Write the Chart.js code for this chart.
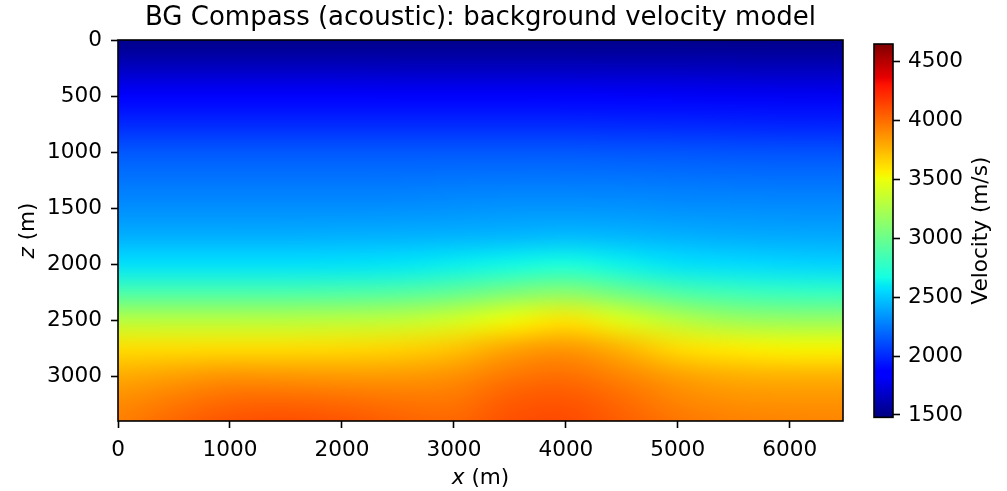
<!DOCTYPE html>
<html>
<head>
<meta charset="utf-8">
<script src="https://cdn.jsdelivr.net/npm/chart.js@4.4.1/dist/chart.umd.min.js"></script>
<style>
  html, body { margin: 0; padding: 0; background: #ffffff; }
  canvas { display: block; }
</style>
</head>
<body>
<canvas id="chart" width="1007" height="491" style="width:1007px;height:491px"></canvas>
<script>
// Grid nodes of the background velocity model (metres)
const xNodes = [0, 500, 1000, 1500, 2000, 2500, 3000, 3500, 4000, 4500, 5000, 5500, 6000, 6500];
const zNodes = [0, 250, 500, 750, 1000, 1250, 1500, 1750, 2000, 2250, 2500, 2750, 3000, 3250, 3500];

// Velocity (m/s), one row per depth, one value per x node
const v_z0    = [1510, 1510, 1510, 1510, 1510, 1510, 1510, 1510, 1510, 1510, 1510, 1510, 1510, 1510];
const v_z250  = [1660, 1660, 1660, 1660, 1660, 1655, 1655, 1655, 1655, 1650, 1650, 1645, 1640, 1640];
const v_z500  = [1830, 1830, 1830, 1830, 1830, 1825, 1825, 1825, 1825, 1820, 1815, 1810, 1805, 1800];
const v_z750  = [2000, 2000, 2000, 2000, 2000, 2000, 2000, 2000, 2000, 1995, 1990, 1985, 1980, 1980];
const v_z1000 = [2150, 2150, 2150, 2150, 2150, 2150, 2150, 2150, 2150, 2145, 2140, 2135, 2130, 2130];
const v_z1250 = [2240, 2240, 2240, 2240, 2240, 2240, 2245, 2250, 2250, 2245, 2240, 2235, 2230, 2230];
const v_z1500 = [2320, 2320, 2320, 2320, 2320, 2325, 2330, 2340, 2340, 2335, 2325, 2320, 2315, 2315];
const v_z1750 = [2420, 2420, 2420, 2420, 2425, 2430, 2435, 2445, 2460, 2445, 2425, 2410, 2405, 2400];
const v_z2000 = [2575, 2575, 2575, 2575, 2580, 2590, 2620, 2650, 2690, 2630, 2580, 2560, 2540, 2530];
const v_z2250 = [2870, 2870, 2870, 2870, 2880, 2900, 2960, 3060, 3120, 3000, 2880, 2820, 2790, 2780];
const v_z2500 = [3300, 3300, 3300, 3300, 3310, 3330, 3400, 3520, 3600, 3450, 3300, 3200, 3170, 3170];
const v_z2750 = [3620, 3620, 3620, 3620, 3630, 3650, 3700, 3810, 3860, 3760, 3620, 3570, 3540, 3540];
const v_z3000 = [3790, 3830, 3870, 3860, 3850, 3850, 3880, 3970, 4000, 3920, 3830, 3780, 3770, 3770];
const v_z3250 = [3900, 3970, 4030, 4040, 4020, 3990, 3980, 4070, 4090, 4020, 3930, 3890, 3880, 3880];
const v_z3500 = [3950, 4040, 4110, 4130, 4110, 4060, 4030, 4110, 4130, 4060, 3990, 3950, 3940, 3930];

const velocityRows = [v_z0, v_z250, v_z500, v_z750, v_z1000, v_z1250, v_z1500, v_z1750,
                      v_z2000, v_z2250, v_z2500, v_z2750, v_z3000, v_z3250, v_z3500];

// Axis ticks and colour range
const xTicks = [0, 1000, 2000, 3000, 4000, 5000, 6000];
const zTicks = [0, 500, 1000, 1500, 2000, 2500, 3000];
const cbarTicks = [1500, 2000, 2500, 3000, 3500, 4000, 4500];
const vMin = 1480;
const vMax = 4650;

const FONT = 'DejaVu Sans';
const TICK_SIZE = 21.6;

// matplotlib "jet" colormap
const JET_R = [[0, 0], [0.35, 0], [0.66, 1], [0.89, 1], [1, 0.5]];
const JET_G = [[0, 0], [0.125, 0], [0.375, 1], [0.64, 1], [0.91, 0], [1, 0]];
const JET_B = [[0, 0.5], [0.11, 1], [0.34, 1], [0.65, 0], [1, 0]];
function seg(s, t) {
  for (let i = 1; i < s.length; i++) {
    if (t <= s[i][0]) {
      const [x0, y0] = s[i - 1], [x1, y1] = s[i];
      return y0 + (y1 - y0) * (t - x0) / (x1 - x0);
    }
  }
  return s[s.length - 1][1];
}
function jet(v) {
  let t = (v - vMin) / (vMax - vMin);
  t = Math.min(1, Math.max(0, t));
  return [Math.round(seg(JET_R, t) * 255), Math.round(seg(JET_G, t) * 255), Math.round(seg(JET_B, t) * 255)];
}

// Draws the velocity grid as an image placed through the x/z scales
const velocityField = {
  id: 'velocityField',
  beforeDatasetsDraw(chart) {
    const { ctx, chartArea: a, scales: { x, y } } = chart;
    const nx = xNodes.length, nz = zNodes.length;
    const off = document.createElement('canvas');
    off.width = nx; off.height = nz;
    const octx = off.getContext('2d');
    const img = octx.createImageData(nx, nz);
    for (let j = 0; j < nz; j++) {
      for (let i = 0; i < nx; i++) {
        const c = jet(velocityRows[j][i]);
        const k = (j * nx + i) * 4;
        img.data[k] = c[0]; img.data[k + 1] = c[1]; img.data[k + 2] = c[2]; img.data[k + 3] = 255;
      }
    }
    octx.putImageData(img, 0, 0);
    const dx = xNodes[1] - xNodes[0], dz = zNodes[1] - zNodes[0];
    const left = x.getPixelForValue(xNodes[0] - dx / 2);
    const right = x.getPixelForValue(xNodes[nx - 1] + dx / 2);
    const top = y.getPixelForValue(zNodes[0] - dz / 2);
    const bottom = y.getPixelForValue(zNodes[nz - 1] + dz / 2);
    ctx.save();
    ctx.beginPath();
    ctx.rect(a.left, a.top, a.right - a.left, a.bottom - a.top);
    ctx.clip();
    ctx.imageSmoothingEnabled = true;
    ctx.imageSmoothingQuality = 'high';
    ctx.drawImage(off, left, top, right - left, bottom - top);
    ctx.restore();
  },
  afterDraw(chart) {
    const { ctx, chartArea: a, scales } = chart;
    const cb = scales.cb, box = scales.cbox;
    // colour bar
    const cTop = cb.getPixelForValue(vMax), cBot = cb.getPixelForValue(vMin);
    ctx.save();
    for (let py = Math.floor(cTop); py < Math.ceil(cBot); py++) {
      const c = jet(cb.getValueForPixel(py + 0.5));
      ctx.fillStyle = `rgb(${c[0]},${c[1]},${c[2]})`;
      const y0 = Math.max(py, cTop), y1 = Math.min(py + 1, cBot);
      ctx.fillRect(box.left, y0, box.right - box.left, y1 - y0);
    }
    ctx.lineWidth = 1.6;
    ctx.strokeStyle = '#000';
    ctx.strokeRect(box.left, cTop, box.right - box.left, cBot - cTop);
    // plot frame
    ctx.strokeRect(a.left, a.top, a.right - a.left, a.bottom - a.top);

    // axis labels
    ctx.fillStyle = '#000';
    ctx.textBaseline = 'middle';
    ctx.textAlign = 'left';
    const norm = `${TICK_SIZE}px "${FONT}"`;
    const ital = `italic ${TICK_SIZE}px "${FONT}"`;
    function mixed(varName, cx, cy, rot) {
      ctx.save();
      ctx.translate(cx, cy);
      ctx.rotate(rot);
      ctx.font = ital; const w1 = ctx.measureText(varName).width;
      ctx.font = norm; const w2 = ctx.measureText(' (m)').width;
      const sx = -(w1 + w2) / 2;
      ctx.font = ital; ctx.fillText(varName, sx, 0);
      ctx.font = norm; ctx.fillText(' (m)', sx + w1, 0);
      ctx.restore();
    }
    mixed('x', (a.left + a.right) / 2, 478, 0);
    mixed('z', 28, (a.top + a.bottom) / 2, -Math.PI / 2);

    ctx.save();
    ctx.translate(981, (cTop + cBot) / 2);
    ctx.rotate(-Math.PI / 2);
    ctx.font = norm;
    ctx.textAlign = 'center';
    ctx.fillText('Velocity (m/s)', 0, 0);
    ctx.restore();
    ctx.restore();
  }
};

const tickFont = { family: FONT, size: TICK_SIZE, weight: 'normal' };
const tickGrid = { display: true, drawOnChartArea: false, drawTicks: true, tickLength: 7, tickWidth: 1.6, tickColor: '#000' };
const spacer = (w, weight) => ({
  type: 'linear', position: 'right', weight, display: true,
  ticks: { display: false }, grid: { display: false }, border: { display: false },
  afterFit: s => { s.width = w; }
});

new Chart(document.getElementById('chart'), {
  type: 'scatter',
  data: { datasets: [] },
  options: {
    responsive: false,
    animation: false,
    devicePixelRatio: 1,
    layout: { padding: 0 },
    plugins: {
      legend: { display: false },
      tooltip: { enabled: false },
      title: {
        display: true,
        fullSize: false,
        text: 'BG Compass (acoustic): background velocity model',
        color: '#000',
        font: { family: FONT, size: 26, weight: 'normal', lineHeight: 1.2 },
        padding: { top: 3, bottom: 5.8 }
      }
    },
    scales: {
      x: {
        type: 'linear', position: 'bottom', min: 0, max: 6475,
        afterBuildTicks: s => { s.ticks = xTicks.map(v => ({ value: v })); },
        ticks: { color: '#000', font: tickFont, padding: 9, autoSkip: false, maxRotation: 0, callback: v => String(v) },
        grid: tickGrid, border: { display: false },
        afterFit: s => { s.height = 70; }
      },
      y: {
        type: 'linear', position: 'left', reverse: true, min: 0, max: 3400,
        afterBuildTicks: s => { s.ticks = zTicks.map(v => ({ value: v })); },
        ticks: { color: '#000', font: tickFont, padding: 9, autoSkip: false, callback: v => String(v) },
        grid: tickGrid, border: { display: false },
        afterFit: s => { s.width = 118; }
      },
      gap: spacer(31, 0),
      cbox: spacer(19, 1),
      cb: {
        type: 'linear', position: 'right', weight: 2, min: 1449, max: 4684,
        afterBuildTicks: s => { s.ticks = cbarTicks.map(v => ({ value: v })); },
        ticks: { color: '#000', font: tickFont, padding: 8, autoSkip: false, callback: v => String(v) },
        grid: tickGrid, border: { display: false },
        afterFit: s => { s.width = 114; }
      }
    }
  },
  plugins: [velocityField]
});
</script>
</body>
</html>
